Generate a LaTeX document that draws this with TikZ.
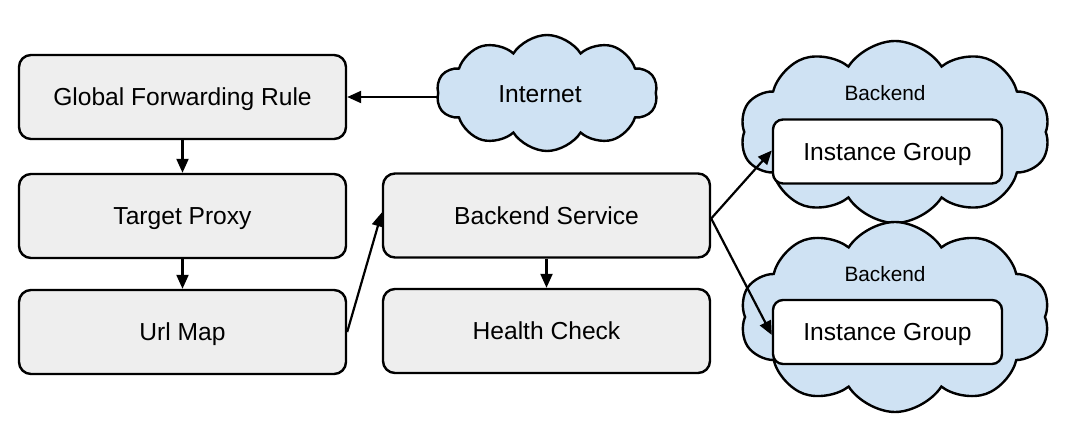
\documentclass[tikz,border=0pt]{standalone}
\usepackage{fontspec}
\setmainfont{Liberation Sans}
\usetikzlibrary{arrows.meta,shapes.symbols}
\definecolor{boxgray}{HTML}{EEEEEE}
\definecolor{cloudblue}{HTML}{CFE2F3}
\begin{document}
\begin{tikzpicture}[x=1pt,y=-1pt,
  box/.style={draw=black, line width=2.4pt, fill=boxgray, rounded corners=12pt,
    minimum width=327pt, minimum height=84pt, inner sep=0pt, text height=18pt, text depth=0pt, font=\fontsize{24.6}{28}\selectfont},
  igbox/.style={draw=black, line width=2.4pt, fill=white, rounded corners=10pt,
    minimum width=229pt, minimum height=64pt, inner sep=0pt, text height=18pt, text depth=0pt, font=\fontsize{24.6}{28}\selectfont},
  cloudshape/.style={cloud, draw=black, line width=2.4pt, fill=cloudblue, cloud puffs=10, cloud puff arc=115, inner sep=0pt},
  lbl/.style={font=\fontsize{20.8}{24}\selectfont, inner sep=0pt, text height=15pt, text depth=0pt},
  conn/.style={line width=2.2pt, -{Triangle[length=14pt,width=12pt]}}]
\useasboundingbox (0,0) rectangle (1088,430);
% boxes
\node[box] (gfr) at (182.5,97) {Global Forwarding Rule};
\node[box] (tp) at (182.5,216) {Target Proxy};
\node[box] (um) at (182.5,332) {Url Map};
\node[box] (bs) at (546.5,215.5) {Backend Service};
\node[box] (hc) at (546.5,331) {Health Check};
% clouds
\node[cloudshape, minimum width=221pt, minimum height=116pt, aspect=1.9] (inet) at (547,93) {};
\node[font=\fontsize{24.6}{28}\selectfont, inner sep=0pt, text height=18pt, text depth=0pt] (inettext) at (540,94) {Internet};
\node[cloudshape, minimum width=310pt, minimum height=182pt, aspect=1.7] (c1) at (895,132) {};
\node[cloudshape, minimum width=310pt, minimum height=190pt, aspect=1.6] (c2) at (895,317) {};
\node[lbl] (b1) at (885,93) {Backend};
\node[lbl] (b2) at (885,274) {Backend};
\node[igbox] (ig1) at (887.5,151.5) {Instance Group};
\node[igbox] (ig2) at (887.5,332) {Instance Group};
% connectors
\draw[conn] (inet.west |- gfr.east) -- (gfr.east);
\draw[conn] (gfr) -- (tp);
\draw[conn] (tp) -- (um);
\draw[conn] (bs) -- (hc);
\draw[conn] (um.east) -- ([yshift=3pt]bs.west);
\draw[conn] ([yshift=-3pt]bs.east) -- ([yshift=1pt]ig1.west);
\draw[conn] ([yshift=-3pt]bs.east) -- ([yshift=-3pt]ig2.west);
\end{tikzpicture}
\end{document}
